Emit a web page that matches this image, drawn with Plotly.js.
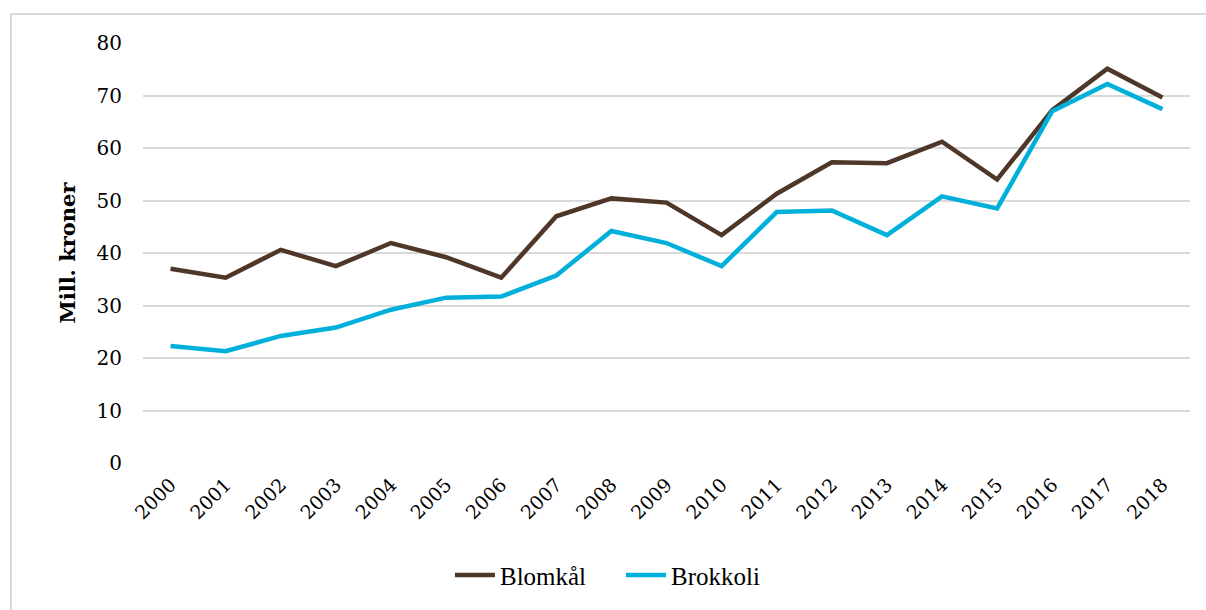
<!DOCTYPE html>
<html>
<head>
<meta charset="utf-8">
<script src="https://cdn.plot.ly/plotly-3.0.1.min.js"></script>
<style>
html,body{margin:0;padding:0;background:#fff;overflow:hidden;}
#frame{position:absolute;left:10px;top:13px;width:1300px;height:700px;border:2px solid #d9d9d9;box-sizing:border-box;pointer-events:none;z-index:5;}
#chart{position:absolute;left:0;top:0;width:1206px;height:610px;}
</style>
</head>
<body>
<div id="frame"></div>
<div id="chart"></div>
<script>
const years = ["2000","2001","2002","2003","2004","2005","2006","2007","2008","2009","2010","2011","2012","2013","2014","2015","2016","2017","2018"];
const blomkal = [37.0,35.3,40.6,37.5,41.9,39.2,35.3,47.0,50.4,49.6,43.4,51.3,57.3,57.1,61.2,54.0,67.2,75.1,69.6];
const brokkoli = [22.3,21.3,24.2,25.8,29.2,31.5,31.7,35.7,44.2,41.9,37.5,47.8,48.1,43.4,50.8,48.5,67.0,72.2,67.4];
const seriesNames = ["Blomkål","Brokkoli"];
const seriesColors = ["#4e3629","#00b0da"];

const font = "'DejaVu Serif', serif";
const traces = [blomkal, brokkoli].map((vals,i)=>({
  type:"scatter", mode:"lines", x:years, y:vals, name:seriesNames[i],
  line:{color:seriesColors[i], width:4.5}
}));
const layout = {
  width:1206, height:610,
  margin:{l:143, r:16, t:43, b:143},
  paper_bgcolor:"#fff", plot_bgcolor:"#fff",
  font:{family:font, color:"#000", size:20},
  showlegend:true,
  legend:{orientation:"h", x:0.4565, xanchor:"center", y:-0.267, yanchor:"middle",
    itemwidth:40, entrywidth:116, entrywidthmode:"pixels",
    font:{family:"'Liberation Serif', serif", size:25, color:"#000"}},
  xaxis:{type:"category", range:[-0.5,18.5], tickangle:-45, showgrid:false, zeroline:false, showline:false,
    ticks:"", ticklabelstandoff:6, tickfont:{family:font, size:19}},
  yaxis:{range:[0,80], dtick:10, showgrid:true, gridcolor:"#d9d9d9", gridwidth:2,
    zeroline:false, showline:false, ticks:"", ticklabelstandoff:20,
    tickfont:{family:font, size:20},
    title:{text:"<b>Mill. kroner</b>", font:{family:font, size:21}, standoff:15}}
};
Plotly.newPlot("chart", traces, layout, {displayModeBar:false, staticPlot:true});
</script>
</body>
</html>
